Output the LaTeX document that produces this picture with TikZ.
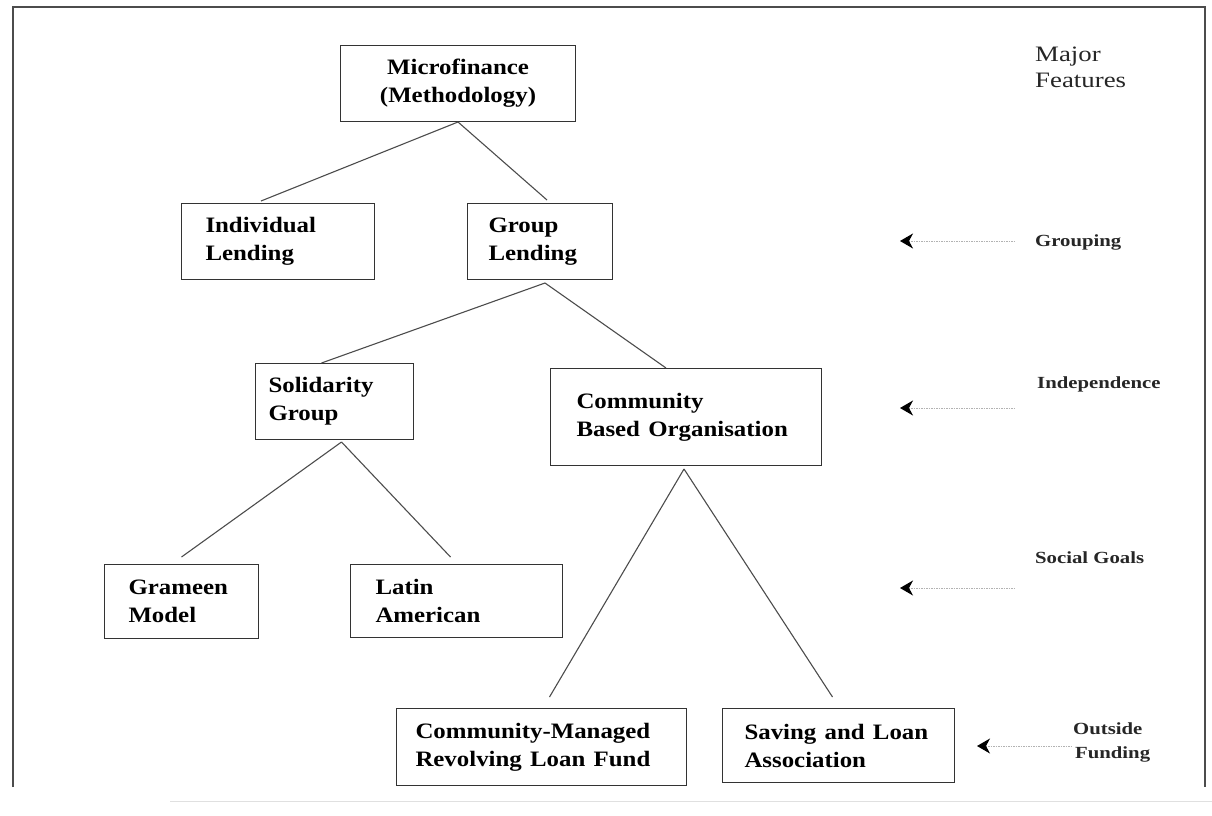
\documentclass[tikz,border=0pt]{standalone}
\usepackage{fontspec}
\setmainfont{Liberation Serif}
\usetikzlibrary{arrows.meta}

\newcommand\boxfont{\fontsize{22}{28}\selectfont\bfseries}
\newcommand\sidefont{\fontsize{17}{23}\selectfont\bfseries}
\newcommand\headfont{\fontsize{22}{26}\selectfont}
% slightly widened lettering
\newcommand\bw[1]{\scalebox{1.13}[1]{#1}}
\newcommand\sw[1]{\scalebox{1.22}[1]{#1}}

\tikzset{
  box/.style={draw=black!80, line width=1pt, rectangle, anchor=north west,
    inner xsep=0pt, inner ysep=0pt, font=\boxfont},
  lbox/.style={box, align=left},
  cbox/.style={box, align=center},
  link/.style={draw=black!70, line width=1.1pt},
  side/.style={anchor=base west, inner sep=0pt, font=\sidefont, text=black!85},
  head/.style={anchor=base west, inner sep=0pt, font=\headfont, text=black!85},
  feature/.style={draw=black!30, line width=1pt, dash pattern=on 1.5pt off 1pt,
    {Stealth[length=13pt,width=15pt,inset=4pt,black]}-},
  frame/.style={draw=black!70, line width=1.2pt}
}

\begin{document}
\begin{tikzpicture}[x=1pt,y=-1pt]
  \useasboundingbox (0,0) rectangle (1212,816);

  % outer frame, open at the bottom
  \draw[frame] (13,787) -- (13,7) -- (1205,7) -- (1205,787);
  \draw[draw=black!12, line width=1pt] (170,801) -- (1212,801);

  % hierarchy boxes (placed by their top-left corners)
  \node[cbox, minimum width=235pt, minimum height=76pt, text width=235pt] (mf) at (340,45)
    {\bw{Microfinance}\\\bw{(Methodology)}};
  \node[lbox, minimum width=193pt, minimum height=76pt, text width=145pt, inner xsep=24pt] (ind) at (181,203)
    {\bw{Individual}\\\bw{Lending}};
  \node[lbox, minimum width=145pt, minimum height=76pt, text width=103pt, inner xsep=21pt] (grp) at (467,203)
    {\bw{Group}\\\bw{Lending}};
  \node[lbox, minimum width=158pt, minimum height=76pt, text width=132pt, inner xsep=13pt] (sol) at (255,363)
    {\bw{Solidarity}\\\bw{Group}};
  \node[lbox, minimum width=271pt, minimum height=97pt, text width=219pt, inner xsep=26pt] (cbo) at (550,368)
    {\bw{Community}\\\bw{Based Organisation}};
  \node[lbox, minimum width=154pt, minimum height=74pt, text width=106pt, inner xsep=24pt] (gra) at (104,564)
    {\bw{Grameen}\\\bw{Model}};
  \node[lbox, minimum width=212pt, minimum height=73pt, text width=162pt, inner xsep=25pt] (lat) at (350,564)
    {\bw{Latin}\\\bw{American}};
  \node[lbox, minimum width=290pt, minimum height=77pt, text width=252pt, inner xsep=19pt] (cm) at (396,708)
    {\bw{Community-Managed}\\\bw{Revolving Loan Fund}};
  \node[lbox, minimum width=232pt, minimum height=74pt, text width=188pt, inner xsep=22pt] (sl) at (722,708)
    {\bw{Saving and Loan}\\\bw{Association}};

  % tree connectors
  \draw[link] (mf.south) -- ([xshift=-17pt,yshift=2pt]ind.north);
  \draw[link] (mf.south) -- ([xshift=7pt,yshift=3pt]grp.north);
  \draw[link] ([xshift=5pt,yshift=-3pt]grp.south) -- ([xshift=-13pt]sol.north);
  \draw[link] ([xshift=5pt,yshift=-3pt]grp.south) -- ([xshift=-20pt]cbo.north);
  \draw[link] ([xshift=7pt,yshift=-2pt]sol.south) -- ([yshift=7pt]gra.north);
  \draw[link] ([xshift=7pt,yshift=-2pt]sol.south) -- ([xshift=-6pt,yshift=7pt]lat.north);
  \draw[link] ([xshift=-2pt,yshift=-3pt]cbo.south) -- ([xshift=8pt,yshift=11pt]cm.north);
  \draw[link] ([xshift=-2pt,yshift=-3pt]cbo.south) -- ([xshift=-6pt,yshift=11pt]sl.north);

  % feature column
  \node[head] (major) at (1035,62) {\sw{Major}};
  \node[head] (feat) at (1035,88) {\sw{Features}};

  \node[side] (grouping) at (1035,246) {\sw{Grouping}};
  \node[side] (indep) at (1037,388) {\sw{Independence}};
  \node[side] (social) at (1035,563) {\sw{Social Goals}};
  \node[side] (outside) at (1073,734) {\sw{Outside}};
  \node[side] (funding) at (1075,758) {\sw{Funding}};

  \coordinate (g0) at (900,241);  \coordinate (g1) at (1015,241);
  \coordinate (i0) at (900,408);  \coordinate (i1) at (1015,408);
  \coordinate (s0) at (900,588);  \coordinate (s1) at (1015,588);
  \coordinate (o0) at (977,746);  \coordinate (o1) at (1072,746);

  \draw[feature] (g0) -- (g1);
  \draw[feature] (i0) -- (i1);
  \draw[feature] (s0) -- (s1);
  \draw[feature] (o0) -- (o1);
\end{tikzpicture}
\end{document}
